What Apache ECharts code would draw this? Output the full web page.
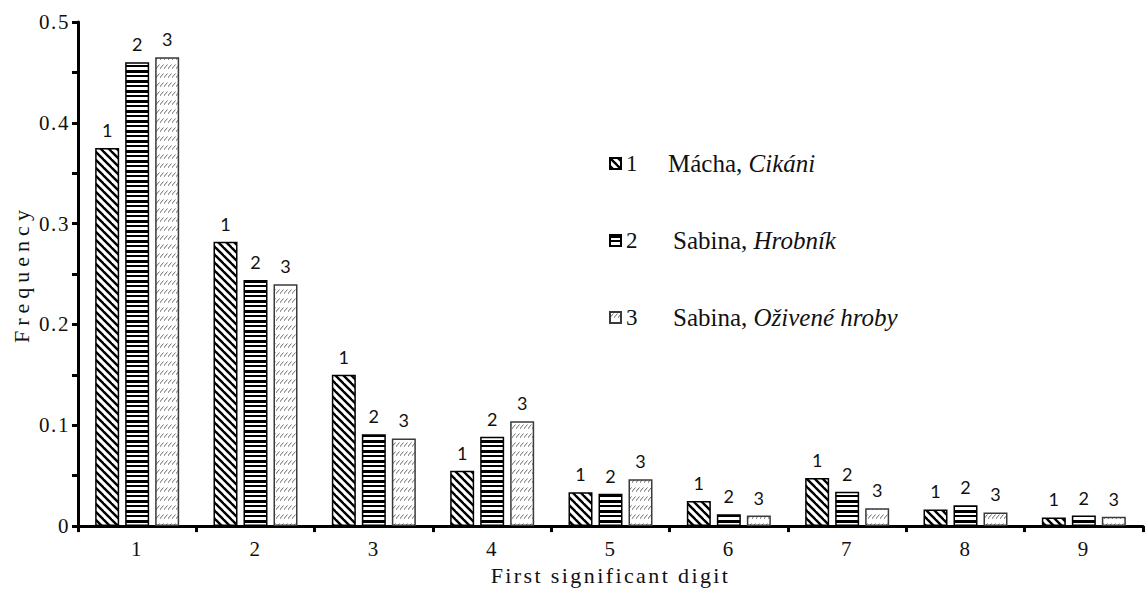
<!DOCTYPE html>
<html>
<head>
<meta charset="utf-8">
<title>First significant digit frequencies</title>
<script src="https://cdn.jsdelivr.net/npm/echarts@6/dist/echarts.min.js"></script>
<style>
  html, body { margin: 0; padding: 0; background: #fff; }
  #chart { width: 1145px; height: 591px; }
  /* wide-set serif text: axis titles and tick labels */
  #chart text[style*="Times New Roman"] { letter-spacing: 5px; }
  #chart text[style*="Times,"] { letter-spacing: 2.4px; }
  #chart text[style*="Tinos"] { letter-spacing: 1.6px; }
</style>
</head>
<body>
<div id="chart"></div>
<script>
// First significant digit categories
const digits = ['1', '2', '3', '4', '5', '6', '7', '8', '9'];

// Relative frequencies of each first digit
const machaCikani    = [0.375, 0.282, 0.150, 0.055, 0.0335, 0.0250, 0.0478, 0.0165, 0.0086];
const sabinaHrobnik  = [0.460, 0.244, 0.091, 0.0885, 0.0320, 0.0118, 0.0340, 0.0207, 0.0105];
const sabinaOzivene  = [0.465, 0.240, 0.087, 0.104, 0.0465, 0.0105, 0.0178, 0.0135, 0.0092];

// Legend entries: author and (italic) work title
const authors = ['Mácha', 'Sabina', 'Sabina'];
const titles  = ['Cikáni', 'Hrobník', 'Oživené hroby'];

const SERIF_YNAME = 'Times New Roman, Liberation Serif, serif';
const SERIF_XNAME = 'Times, Liberation Serif, serif';
const SERIF_TICK = 'Tinos, Liberation Serif, serif';
const SERIF = 'Liberation Serif, serif';

function tile(w, h, draw) {
  const c = document.createElement('canvas');
  c.width = w; c.height = h;
  const ctx = c.getContext('2d');
  ctx.fillStyle = '#fff';
  ctx.fillRect(0, 0, w, h);
  draw(ctx, w, h);
  return { image: c, repeat: 'repeat' };
}

// back-slash hatching
const hatchBack = tile(8, 8, (ctx, w, h) => {
  ctx.strokeStyle = '#000';
  ctx.lineWidth = 2.4;
  for (const k of [-w, 0, w]) {
    ctx.beginPath();
    ctx.moveTo(k - 1, -1);
    ctx.lineTo(k + w + 1, h + 1);
    ctx.stroke();
  }
});

// horizontal stripes, alternating thick and thin
const stripes = tile(8, 10, (ctx, w) => {
  ctx.fillStyle = '#000';
  ctx.fillRect(0, 0, w, 3);
  ctx.fillRect(0, 5, w, 2);
});

// light rows of short forward slashes
const slashes = tile(4, 9, (ctx) => {
  ctx.strokeStyle = '#6a6a6a';
  ctx.lineWidth = 1;
  ctx.beginPath();
  ctx.moveTo(0.5, 5);
  ctx.lineTo(3.5, 1.5);
  ctx.stroke();
  ctx.fillStyle = '#9a9a9a';
  ctx.fillRect(0, 5, 1, 1);
});

const fills = [hatchBack, stripes, slashes];
const borders = ['#000', '#000', '#3a3a3a'];
const seriesData = [machaCikani, sabinaHrobnik, sabinaOzivene];
const names = authors.map((a, i) => a + ', ' + titles[i]);

const chart = echarts.init(document.getElementById('chart'), null, { renderer: 'svg' });

const series = seriesData.map((vals, i) => ({
  name: names[i],
  type: 'bar',
  data: vals,
  barWidth: 24,
  barGap: '25%',
  itemStyle: { color: fills[i], borderColor: borders[i], borderWidth: 1.5 },
  label: {
    show: true,
    position: 'top',
    distance: 9,
    formatter: String(i + 1),
    fontFamily: 'Lato, Open Sans, sans-serif',
    fontSize: 18,
    color: '#111'
  },
  emphasis: { disabled: true }
}));

chart.setOption({
  animation: false,
  backgroundColor: '#fff',
  grid: { left: 78, right: 2, top: 22, bottom: 62, containLabel: false },
  legend: {
    orient: 'vertical',
    left: 604,
    top: 146,
    icon: 'rect',
    itemWidth: 11,
    itemHeight: 11,
    itemGap: 52,
    itemTextGap: 8,
    selectedMode: false,
    data: names,
    formatter: (name) => {
      const i = names.indexOf(name);
      return '{n' + (i === 0 ? 'a' : 'b') + '|' + (i + 1) + '}{a|' + authors[i] + ', }{t|' + titles[i] + '}';
    },
    textStyle: {
      rich: {
        na: { fontFamily: SERIF, fontSize: 23, width: 42, lineHeight: 26, color: '#111' },
        nb: { fontFamily: SERIF, fontSize: 23, width: 47, lineHeight: 26, color: '#111' },
        a:  { fontFamily: SERIF, fontSize: 25, lineHeight: 26, color: '#111' },
        t:  { fontFamily: SERIF, fontSize: 25, fontStyle: 'italic', lineHeight: 26, color: '#111' }
      }
    }
  },
  xAxis: {
    type: 'category',
    data: digits,
    name: 'First significant digit',
    nameLocation: 'middle',
    nameGap: 35,
    nameTextStyle: { fontFamily: SERIF_XNAME, fontSize: 22, color: '#111' },
    axisLine: { lineStyle: { color: '#000', width: 3 } },
    axisTick: { show: true, length: 6, lineStyle: { color: '#000', width: 3 } },
    axisLabel: { fontFamily: SERIF_TICK, fontSize: 21, color: '#111', margin: 12 },
    splitLine: { show: false }
  },
  yAxis: {
    type: 'value',
    min: 0,
    max: 0.5,
    interval: 0.1,
    name: 'Frequency',
    nameLocation: 'middle',
    nameRotate: 90,
    nameGap: 44,
    nameTextStyle: { fontFamily: SERIF_YNAME, fontSize: 22, color: '#111' },
    axisLine: { show: true, lineStyle: { color: '#000', width: 3 } },
    axisTick: { show: true, length: 6, lineStyle: { color: '#000', width: 3 } },
    minorTick: { show: true, splitNumber: 2, length: 6, lineStyle: { color: '#000', width: 3 } },
    axisLabel: { fontFamily: SERIF_TICK, fontSize: 21, color: '#111', margin: 8 },
    splitLine: { show: false }
  },
  series: series
});
</script>
</body>
</html>
